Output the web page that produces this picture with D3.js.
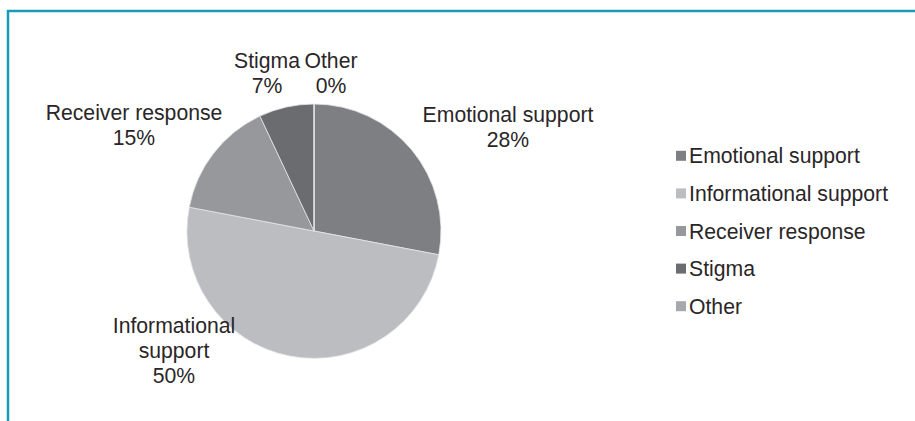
<!DOCTYPE html>
<html lang="en">
<head>
    <meta charset="UTF-8">
    <title>Support categories</title>
    <script src="https://d3js.org/d3.v7.min.js"></script>
    <style>
        body { margin: 0; background: #fff; }
        text { font-family: "Liberation Sans", Arial, sans-serif; fill: #2a2628; }
    </style>
</head>
<body>
    <div id="chart"></div>
    <script>
        // data
        const categories = ["Emotional support", "Informational support", "Receiver response", "Stigma", "Other"];
        const values = [28, 50, 15, 7, 0];
        const colors = ["#7e7f83", "#bcbdc1", "#97989c", "#6b6c70", "#a7a8ac"];
        // label lines per slice (text wraps as in the original)
        const labelLines = [["Emotional support", "28%"], ["Informational", "support", "50%"], ["Receiver response", "15%"], ["Stigma", "7%"], ["Other", "0%"]];
        const labelPos = [[508, 122], [174, 333], [134, 120], [267, 68], [331, 68]];

        const width = 915, height = 421;
        const svg = d3.select("#chart").append("svg").attr("width", width).attr("height", height);

        // frame (top and left rule)
        svg.append("line").attr("x1", 7).attr("x2", width).attr("y1", 11).attr("y2", 11)
            .attr("stroke", "#1b9ab6").attr("stroke-width", 2.5);
        svg.append("line").attr("x1", 8).attr("x2", 8).attr("y1", 10).attr("y2", height)
            .attr("stroke", "#1b9ab6").attr("stroke-width", 2.5);

        const cx = 314, cy = 231, radius = 127;
        const pie = d3.pie().sort(null).value(d => d)(values);
        const arc = d3.arc().innerRadius(0).outerRadius(radius);
        const g = svg.append("g").attr("transform", `translate(${cx},${cy})`);
        g.selectAll("path")
            .data(pie)
            .enter().append("path")
            .attr("d", arc)
            .attr("fill", (d, i) => colors[i])
            .attr("stroke", "#e6e6e8")
            .attr("stroke-width", 0.8);

        // data labels
        const labels = svg.append("g");
        labelLines.forEach((lines, i) => {
            const t = labels.append("text")
                .attr("x", labelPos[i][0]).attr("y", labelPos[i][1])
                .attr("text-anchor", "middle")
                .style("font-size", "21.2px");
            lines.forEach((l, j) => {
                t.append("tspan").attr("x", labelPos[i][0]).attr("dy", j === 0 ? 0 : 25).text(l);
            });
        });

        // legend
        const y = d3.scaleBand().domain(categories).range([137, 325]);
        const legend = svg.append("g").attr("transform", "translate(676,0)");
        legend.selectAll("rect")
            .data(categories)
            .enter().append("rect")
            .attr("x", 0)
            .attr("y", d => y(d) + y.bandwidth() / 2 - 5)
            .attr("width", 10).attr("height", 10)
            .attr("fill", (d, i) => colors[i]);
        legend.selectAll("text")
            .data(categories)
            .enter().append("text")
            .attr("x", 13)
            .attr("y", d => y(d) + y.bandwidth() / 2 + 7.5)
            .style("font-size", "21.2px")
            .text(d => d);
    </script>
</body>
</html>
